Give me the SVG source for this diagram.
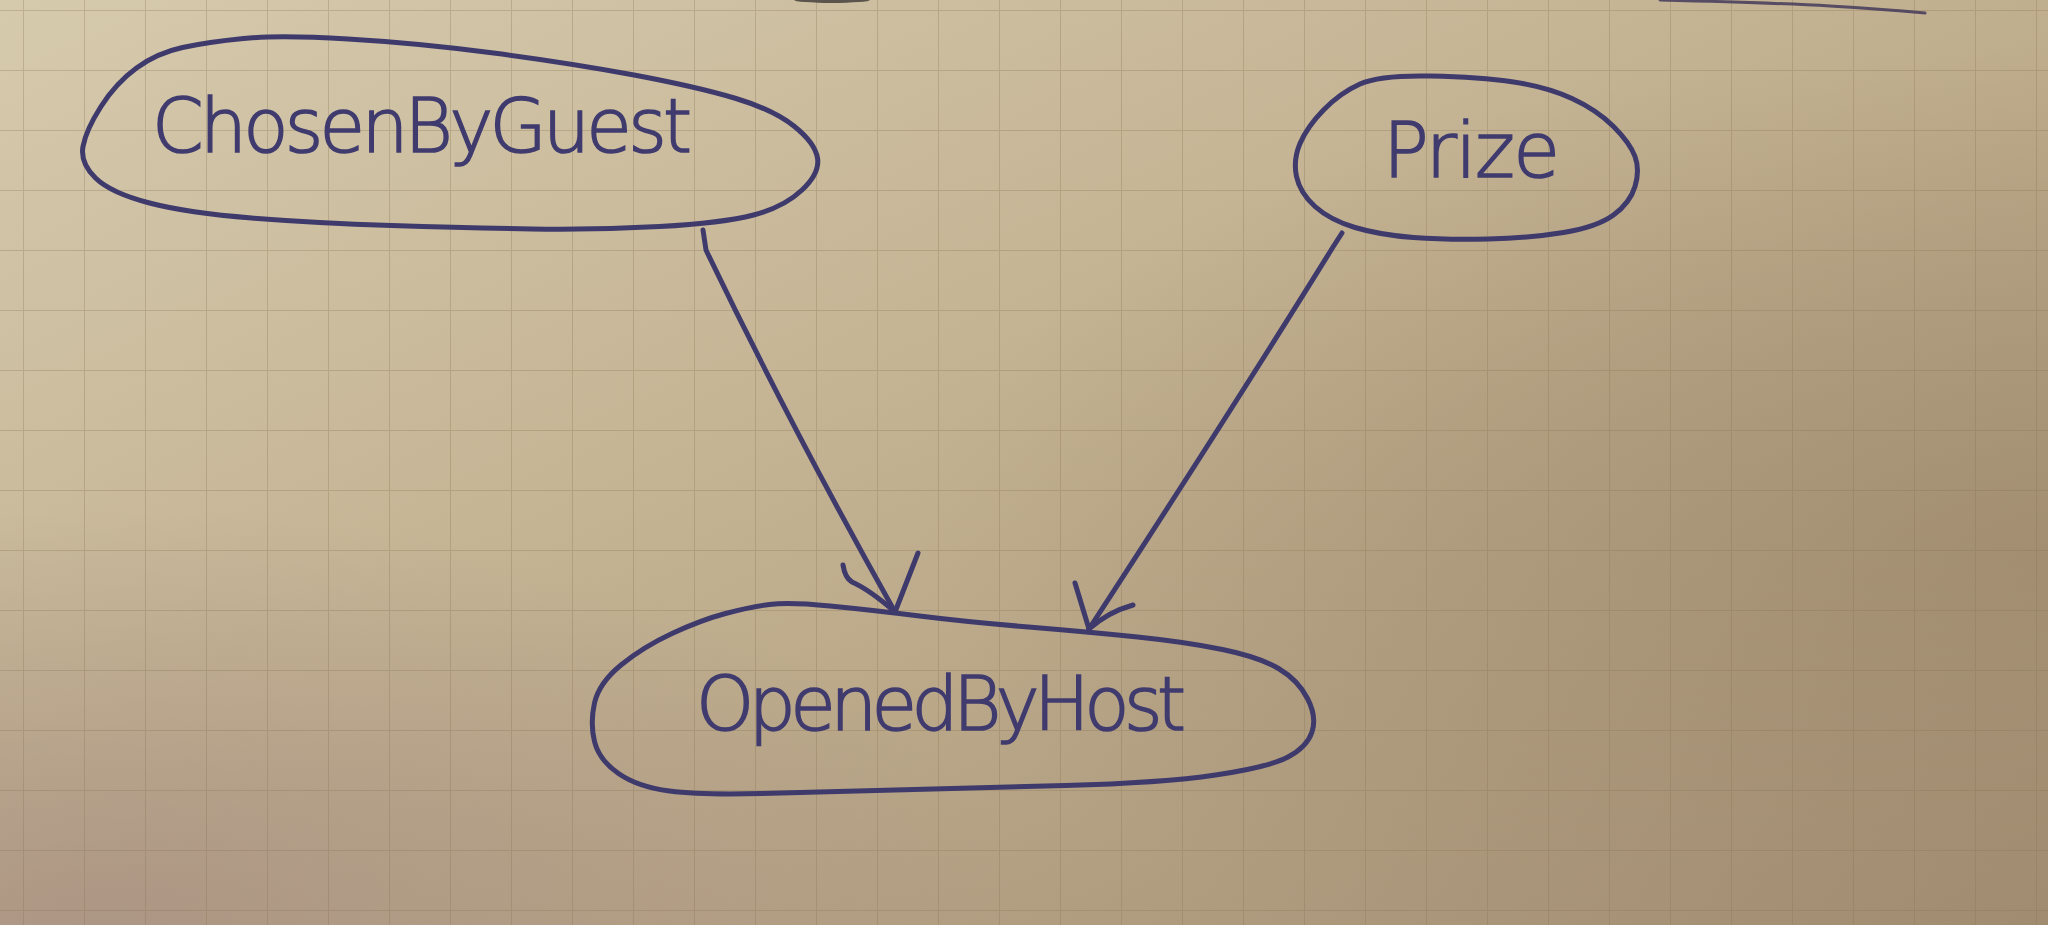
<svg xmlns="http://www.w3.org/2000/svg" width="2048" height="925" viewBox="0 0 2048 925">
  <defs>
    <linearGradient id="paper" x1="0" y1="0" x2="1" y2="1">
      <stop offset="0" stop-color="#d6caad"/>
      <stop offset="0.45" stop-color="#c3b292"/>
      <stop offset="1" stop-color="#a28d72"/>
    </linearGradient>
    <radialGradient id="shadeBL" cx="0.05" cy="1" r="0.45">
      <stop offset="0" stop-color="#a48c80" stop-opacity="0.7"/>
      <stop offset="1" stop-color="#a48c80" stop-opacity="0"/>
    </radialGradient>
    <radialGradient id="shadeR" cx="1" cy="0.6" r="0.55">
      <stop offset="0" stop-color="#9a8568" stop-opacity="0.6"/>
      <stop offset="1" stop-color="#9a8568" stop-opacity="0"/>
    </radialGradient>
    <pattern id="grid" width="61" height="60" patternUnits="userSpaceOnUse" x="23" y="10">
      <path d="M0,0 H61 M0,0 V60" fill="none" stroke="#86704f" stroke-opacity="0.3" stroke-width="2"/>
    </pattern>
  </defs>
  <style>
    .pen { fill: none; stroke: #3f3a6c; stroke-width: 5; stroke-linecap: round; stroke-linejoin: round; }
    .label { font-family: "DejaVu Sans ExtraLight", "DejaVu Sans", "Liberation Sans", sans-serif; font-weight: 200; fill: #403b6e; stroke: #403b6e; stroke-width: 1.6; }
  </style>

  <g id="background">
    <rect width="2048" height="925" fill="url(#paper)"/>
    <rect width="2048" height="925" fill="url(#shadeBL)"/>
    <rect width="2048" height="925" fill="url(#shadeR)"/>
    <rect width="2048" height="925" fill="url(#grid)"/>
    <ellipse cx="832" cy="0" rx="38" ry="3" fill="#5a544c"/>
    <path d="M1660,0 Q1780,3 1830,6 Q1880,9 1925,13" fill="none" stroke="#433a5a" stroke-width="3" stroke-linecap="round" stroke-opacity="0.85"/>
  </g>

  <g id="connectors">
    <g id="edge-chosen-opened">
      <path class="pen" d="M703,230 L706,250 Q790,425 895,612"/>
      <path class="pen" d="M843,565 Q845,578 852,582 Q870,590 895,612"/>
      <path class="pen" d="M918,553 L895,612"/>
    </g>
    <g id="edge-prize-opened">
      <path class="pen" d="M1342,233 L1333,247 Q1235,405 1089,629"/>
      <path class="pen" d="M1075,583 L1089,629"/>
      <path class="pen" d="M1133,605 Q1108,612 1089,629"/>
    </g>
  </g>

  <g id="node-chosen-by-guest">
    <path class="pen" d="M243.5,38.5 Q279,35 348,39 Q417,43 493.5,53 Q570,63 634,75 Q698,87 736,98.5 Q774,110 794.5,126.5 Q815,143 817.5,158 Q820,173 802,190 Q784,207 753.5,215 Q723,223 659.5,226.5 Q596,230 532,229 Q468,228 391.5,225.5 Q315,223 251.5,218 Q188,213 149.5,203 Q111,193 95.5,178 Q80,163 83,146.5 Q86,130 101,106.5 Q116,83 136.5,68 Q157,53 182.5,47.5 Q208,42 243.5,38.5 Z"/>
    <text class="label" x="152" y="152" font-size="74" textLength="540" lengthAdjust="spacing">ChosenByGuest</text>
  </g>

  <g id="node-prize">
    <path class="pen" d="M1430,76 Q1480,77 1513.5,82 Q1547,87 1572,98.5 Q1597,110 1613.5,126.5 Q1630,143 1635,156.5 Q1640,170 1635,186.5 Q1630,203 1613.5,215 Q1597,227 1563.5,232.5 Q1530,238 1488.5,239 Q1447,240 1413.5,237.5 Q1380,235 1355,227.5 Q1330,220 1315,206.5 Q1300,193 1296.5,176.5 Q1293,160 1300,143.5 Q1307,127 1323.5,110 Q1340,93 1360,84 Q1380,75 1430,76 Z"/>
    <text class="label" x="1383" y="177" font-size="76" textLength="177" lengthAdjust="spacing">Prize</text>
  </g>

  <g id="node-opened-by-host">
    <path class="pen" d="M830,606 Q871,610 919.5,616 Q968,622 1028.5,627 Q1089,632 1137.5,637 Q1186,642 1222.5,649.5 Q1259,657 1278.5,668.5 Q1298,680 1307.5,698.5 Q1317,717 1312,732 Q1307,747 1288,757 Q1269,767 1215.5,775 Q1162,783 1065,785.5 Q968,788 895,790 Q822,792 761.5,793.5 Q701,795 669.5,791 Q638,787 618.5,773.5 Q599,760 594.5,741.5 Q590,723 594.5,703 Q599,683 621,665 Q643,647 672,633.5 Q701,620 725.5,613.5 Q750,607 769.5,604.5 Q789,602 830,606 Z"/>
    <text class="label" x="696" y="730" font-size="74" textLength="490" lengthAdjust="spacing">OpenedByHost</text>
  </g>
</svg>
